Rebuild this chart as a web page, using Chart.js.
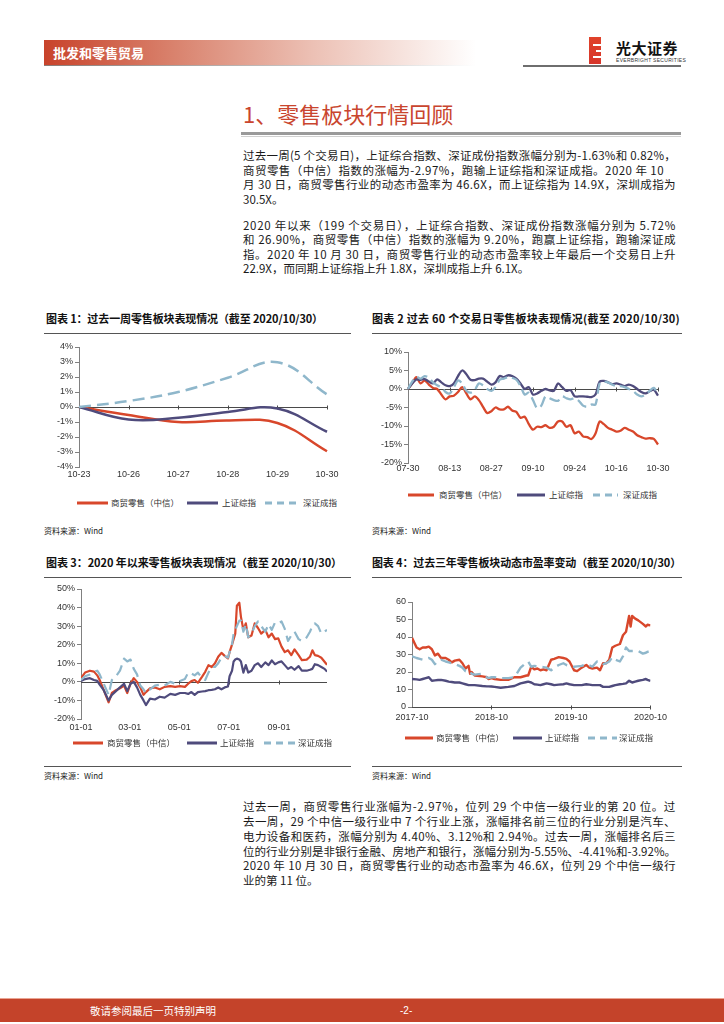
<!DOCTYPE html>
<html>
<head>
<meta charset="utf-8">
<script src="https://cdn.jsdelivr.net/npm/chart.js@4.4.1/dist/chart.umd.min.js"></script>
<style>
  body { margin: 0; background: #fff; }
  #page { position: relative; width: 724px; height: 1024px; overflow: hidden;
          font-family: "Noto Sans CJK SC", "Liberation Sans", sans-serif; color: #1a1a1a; }
  .abs { position: absolute; }
  .fit { position: absolute; white-space: nowrap; display: inline-block; }
  .ln { font-size: 11.5px; line-height: 15px; height: 15px; left: 243px; }
  .ttl { font-size: 11px; font-weight: bold; line-height: 14px; height: 14px; color: #111; }
  .src { font-size: 8px; line-height: 10px; color: #222; }
  .lg { font-size: 8.5px; line-height: 11px; color: #333; }
  canvas { position: absolute; }
</style>
</head>
<body>
<div id="page">
  <!-- header band -->
  <div class="abs" style="left:44px;top:40px;width:432px;height:25px;background:linear-gradient(to right,#c8432b 0%,#d9826d 30%,#ecc0b4 62%,#ffffff 100%);"></div>
  <div class="abs" style="left:44px;top:65px;width:432px;height:1px;background:linear-gradient(to right,#8a7c78,#ddd 80%,#fff);"></div>
  <div class="abs" style="left:53px;top:44px;font-size:13px;line-height:17px;font-weight:bold;color:#fff;">批发和零售贸易</div>

  <!-- logo -->
  <div class="abs" style="left:589px;top:37px;width:12px;height:27px;background:linear-gradient(to bottom,#e0422a,#d7352a);"></div>
  <div class="abs" style="left:593px;top:44px;width:8px;height:1.5px;background:#fff;"></div>
  <div class="abs" style="left:596px;top:50px;width:5px;height:1.5px;background:#fff;"></div>
  <div class="abs" style="left:593px;top:56px;width:8px;height:1.5px;background:#fff;"></div>
  <div class="abs" style="left:616px;top:38px;font-size:15px;line-height:19px;font-weight:bold;color:#111;letter-spacing:0.5px;">光大证券</div>
  <div class="abs" style="left:616px;top:57px;font-size:5px;line-height:6px;color:#333;font-family:'Liberation Sans';letter-spacing:0.3px;">EVERBRIGHT SECURITIES</div>
  <div class="abs" style="left:523px;top:65px;width:158px;height:2px;background:#6e6e6e;"></div>

  <!-- section title -->
  <div class="abs" style="left:243px;top:100px;font-size:22px;line-height:26px;color:#c9452e;">1、零售板块行情回顾</div>
  <div class="abs" style="left:241px;top:132px;width:440px;height:3px;background:#9a9a9a;"></div>
  <div class="abs" style="left:241px;top:136px;width:440px;height:1px;background:#d0d0d0;"></div>

  <!-- paragraphs -->
  <span class="fit ln" style="top:148px">过去一周(5 个交易日)，上证综合指数、深证成份指数涨幅分别为-1.63%和 0.82%，</span>
  <span class="fit ln" data-w="421" style="top:163px">商贸零售（中信）指数的涨幅为-2.97%，跑输上证综指和深证成指。2020 年 10</span>
  <span class="fit ln" style="top:177px">月 30 日，商贸零售行业的动态市盈率为 46.6X，而上证综指为 14.9X，深圳成指为</span>
  <span class="fit ln" data-w="0" style="top:192px">30.5X。</span>
  <span class="fit ln" style="top:218px">2020 年以来（199 个交易日），上证综合指数、深证成份指数涨幅分别为 5.72%</span>
  <span class="fit ln" style="top:232px">和 26.90%，商贸零售（中信）指数的涨幅为 9.20%，跑赢上证综指，跑输深证成</span>
  <span class="fit ln" style="top:247px">指。2020 年 10 月 30 日，商贸零售行业的动态市盈率较上年最后一个交易日上升</span>
  <span class="fit ln" data-w="0" style="top:261px">22.9X，而同期上证综指上升 1.8X，深圳成指上升 6.1X。</span>

  <!-- chart titles -->
  <span class="fit ttl" data-w="277" style="left:46px;top:311px">图表 1：过去一周零售板块表现情况（截至 2020/10/30）</span>
  <span class="fit ttl" data-w="308" style="left:372px;top:311px">图表 2 过去 60 个交易日零售板块表现情况(截至 2020/10/30)</span>
  <div class="abs" style="left:44px;top:333px;width:307px;height:1px;background:#555;"></div>
  <div class="abs" style="left:372px;top:333px;width:310px;height:1px;background:#555;"></div>

  <span class="fit ttl" data-w="296" style="left:46px;top:555px">图表 3：2020 年以来零售板块表现情况（截至 2020/10/30）</span>
  <span class="fit ttl" data-w="309" style="left:372px;top:555px">图表 4：过去三年零售板块动态市盈率变动（截至 2020/10/30）</span>
  <div class="abs" style="left:44px;top:577px;width:307px;height:1px;background:#555;"></div>
  <div class="abs" style="left:372px;top:577px;width:310px;height:1px;background:#555;"></div>

  <canvas id="c1"></canvas>
  <canvas id="c2"></canvas>
  <canvas id="c3"></canvas>
  <canvas id="c4"></canvas>
  <div id="legends"></div>

  <span class="fit src" style="left:44px;top:526px">资料来源：Wind</span>
  <span class="fit src" style="left:372px;top:526px">资料来源：Wind</span>
  <div class="abs" style="left:44px;top:766px;width:307px;height:1px;background:#555;"></div>
  <div class="abs" style="left:372px;top:766px;width:310px;height:1px;background:#555;"></div>
  <span class="fit src" style="left:44px;top:771px">资料来源：Wind</span>
  <span class="fit src" style="left:372px;top:771px">资料来源：Wind</span>

  <!-- closing paragraph -->
  <span class="fit ln" style="top:799px">过去一周，商贸零售行业涨幅为-2.97%，位列 29 个中信一级行业的第 20 位。过</span>
  <span class="fit ln" style="top:814px">去一周，29 个中信一级行业中 7 个行业上涨，涨幅排名前三位的行业分别是汽车、</span>
  <span class="fit ln" style="top:829px">电力设备和医药，涨幅分别为 4.40%、3.12%和 2.94%。过去一周，涨幅排名后三</span>
  <span class="fit ln" style="top:844px">位的行业分别是非银行金融、房地产和银行，涨幅分别为-5.55%、-4.41%和-3.92%。</span>
  <span class="fit ln" style="top:858px">2020 年 10 月 30 日，商贸零售行业的动态市盈率为 46.6X，位列 29 个中信一级行</span>
  <span class="fit ln" data-w="0" style="top:873px">业的第 11 位。</span>

  <!-- footer -->
  <div class="abs" style="left:0;top:998px;width:724px;height:1px;background:#e9a493;"></div>
  <div class="abs" style="left:0;top:999px;width:724px;height:23px;background:#c4432a;"></div>
  <div class="abs" style="left:90px;top:1004px;font-size:10.5px;line-height:14px;color:#fff;">敬请参阅最后一页特别声明</div>
  <div class="abs" style="left:400px;top:1004px;font-size:10px;line-height:14px;color:#fff;font-family:'Liberation Sans';">-2-</div>
</div>

<script>
// ---- chart 1: past week (trading days) ----
const wkLabels = ["10-23", "10-26", "10-27", "10-28", "10-29", "10-30"];
const wkRetail = [0, -0.53, -1.0, -0.9, -1.07, -2.95];
const wkSH     = [0, -0.83, -0.72, -0.33, -0.1, -1.65];
const wkSZ     = [0, 0.4, 1.0, 1.95, 2.98, 0.84];

// ---- chart 2: past 60 trading days ----
const d60Labels = ["07-30","07-31","08-03","08-04","08-05","08-06","08-07","08-10","08-11","08-12",
  "08-13","08-14","08-17","08-18","08-19","08-20","08-21","08-24","08-25","08-26",
  "08-27","08-28","08-31","09-01","09-02","09-03","09-04","09-07","09-08","09-09",
  "09-10","09-11","09-14","09-15","09-16","09-17","09-18","09-21","09-22","09-23",
  "09-24","09-25","09-28","09-29","09-30","10-09","10-12","10-13","10-14","10-15",
  "10-16","10-19","10-20","10-21","10-22","10-23","10-26","10-27","10-28","10-29","10-30"];
const d60Retail = [0,1.5,3.2,1.5,2.3,1.2,0.3,0,-1.5,-2.8,
  -2.0,-1.8,-0.8,0.5,-1.2,-2.8,-2.0,-3.0,-4.8,-6.5,
  -6.0,-5.0,-5.5,-5.5,-4.8,-5.8,-6.2,-7.8,-7.5,-9.5,
  -11.0,-10.2,-10.3,-9.8,-10.5,-10.2,-8.8,-8.8,-10.2,-9.8,
  -12.0,-11.5,-12.8,-13.0,-13.5,-12.0,-8.8,-9.5,-10.5,-11.0,
  -11.5,-11.3,-10.5,-11.0,-11.5,-12.5,-13.0,-13.4,-13.3,-13.5,-15.0];
const d60SH = [0,1.5,2.6,2.5,2.7,2.0,1.5,2.6,1.8,1.0,
  0.8,1.5,3.5,5.0,4.0,2.5,2.4,2.8,2.8,2.0,
  1.2,1.8,3.5,3.2,3.7,3.5,2.8,1.5,0,0.5,
  -1.5,-1.2,-0.5,0,-0.4,-0.5,1.5,0.5,-0.5,-0.3,
  -2.0,-2.0,-2.0,-2.1,-2.2,-1.5,2.0,2.2,1.8,1.3,
  1.5,1.2,0.8,1.2,0.8,0,-0.8,-1.2,-0.6,-0.2,-1.8];
const d60SZ = [0,2.0,3.3,2.8,3.5,3.0,1.8,1.0,0.5,-0.8,
  -1.2,0.5,2.3,1.5,-0.5,-1.0,-0.3,1.5,1.0,0,
  -0.5,0.5,2.5,2.8,3.2,3.0,2.5,0.8,-1.5,-1.0,
  -3.0,-5.2,-4.5,-2.0,-2.5,-3.0,-3.2,-2.0,-2.5,-2.8,
  -2.5,-3.2,-4.5,-4.8,-4.2,-4.2,1.5,2.0,1.8,1.2,
  0.8,0.8,0.5,0,-0.5,-1.5,-2.0,-1.5,-0.5,0.3,-1.5];

// ---- chart 3: 2020 YTD, x = calendar day since 01-01 ----
const ytdDays = [0,5,11,16,20,23,28,34,38,43, 48,53,57,61,65,69,73,77,80,85,
  91,97,103,110,116,122,128,132,136,140, 144,149,153,157,161,165,169,173,177,181,
  183,186,188,190,192,195,197,200,203,206, 210,214,218,222,227,231,235,239,243,247,
  251,255,259,263,268,272,278,282,285,288, 292,296,300,303];
const ytdRetail = [2,5,6,5.5,3.5,1,-4.5,-11,-6,-4.5, -3.5,-2,-6,-1,2,0,-3,-7,-5.5,-3.5,
  -3,-4,-2.7,-2.3,-2.7,-2.3,-2.7,-1,0.4,1, -0.5,2.7,5.4,9,8,10,13.5,15.6,14,12.6,
  16,20,23,26,41,42.6,35,28,31.5,24, 25,31.5,29,26,28,24,26,23,23.4,19,
  16,17,14.4,17.5,14.4,11.7,12,13.5,17,14.4, 14,13,10.8,9.2];
const ytdSH = [0.5,1.5,2,1,0.5,-1.5,-4.5,-10,-7,-5, -3,-1,-5,-1,0,-3,-7,-10,-12.5,-9,
  -9.5,-8,-8.5,-6.5,-7,-6,-6,-6.5,-5.5,-7, -5.5,-5.2,-5,-4.5,-4.3,-4,-3,-4,-3,-2.5,
  3,6,11,12,12.5,12,11,5,9,5, 6,9,10,8,10.5,9,11.5,9.5,10.5,11,
  9,7,8,6.5,8.5,6,6,6.5,7,9.5, 9,8,7,5.5];
const ytdSZ = [1,3,4,5.5,6,4,-1,-7,1,3, 6,12.5,11,12,7,4,-2,-4,-6,-4,
  -2,-1.5,-2,0,-1,0.5,1.5,5,4.5,3.5, 5,2,1,5,8,8,10,13,14,13,
  16,20,26,28,30,33,33,27,31,24, 26,30,32.5,30,27,31,28,32,31.5,32.5,
  28.5,22,25,27,23,22,24,27,30,31.5, 30,26,27,28];
const ytdTicks = [0, 60, 121, 182, 244];
const ytdTickLabels = ["01-01", "03-01", "05-01", "07-01", "09-01"];

// ---- chart 4: 3-year PE, x = week since 2017-10 ----
const peWeeks = [0,3,5,7,9,11,13,15,17,19, 22,24,26,28,31,33,35,37,38,39,
  41,46,49,50,52,54,58,63,67,71, 75,76,78,80,82,84,86,88,91,93,
  96,99,101,103,106,108,111,114,116,118, 121,123,125,127,129,131,133,136,138,140,
  142,143,144,146,148,151,153,154,156];
const peRetail = [39.5,34,33,34,34,34.5,33,29.5,30.5,28, 28,27,25.5,26.5,27,25,22,23.5,19,20,
  18,17.5,17,16,16.5,16,15.5,15.5,17,17, 18,18,23,21.5,22,21,21.5,21,27,27.5,
  28.5,28,27.5,26,21,20.5,22.5,24,22.5,22, 22.5,21,25,25,27,34,35,36,41,43,
  52,46,52,50.5,49.5,47.5,46,47,46.6];
const peSH = [16,15.8,15.5,16,16.5,17,15,15.2,15.4,15.5, 15,14.5,14.3,14,14,13.5,13,12.5,12.5,12.5,
  12.5,12,11.8,11.8,11.7,11.5,11,11.5,12,13.5, 14.3,14.5,14,13,12.8,12.5,13,13.5,13,12.5,
  12.8,13,13.5,13,12.5,12.5,12.5,13,12.8,12.5, 12.5,12.5,11.5,11.5,11.5,12,12.5,13,13.2,13.5,
  15,14.5,14,14.5,15,15.5,16,15.5,14.9];
const peSZ = [29,28,27.5,27,27.5,28,27,24.5,26.5,27, 26,25.5,25,24.5,23.5,22.5,20.5,21,20,19,
  18.5,19,17,16.5,17,17,16.5,16.5,17,22.5, 25.5,26,23,23.5,23.2,23,22.8,22.5,21,22.5,
  24,25,24,23.5,23,23.2,23.5,24.5,23.8,23, 26,26,24.5,25,26,28.5,27,26,29,34,
  32,32,32,32,32,30.5,31,31.5,32];
const peTicks = [0, 52, 104, 156];
const peTickLabels = ["2017-10", "2018-10", "2019-10", "2020-10"];

const seriesNames = ["商贸零售（中信）", "上证综指", "深证成指"];
const RED = "#d8472b", NAVY = "#4f4b7c", BLUE = "#8fb7cb";
const tickFont = { family: "Liberation Sans", size: 9 };

// zero line with small tick marks, drawn under the series like the source charts
const zeroAxis = {
  id: "zeroAxis",
  beforeDatasetsDraw(chart) {
    const { ctx, chartArea: a, scales: { x, y } } = chart;
    const py = Math.round(y.getPixelForValue(0)) + 0.5;
    ctx.save();
    ctx.strokeStyle = "#4a4a4a";
    ctx.lineWidth = 1;
    ctx.beginPath();
    ctx.moveTo(a.left, py);
    ctx.lineTo(a.right, py);
    x.ticks.forEach((t, i) => {
      if (i === 0) return;
      const px = Math.round(x.getPixelForTick(i)) + 0.5;
      ctx.moveTo(px, py - 2);
      ctx.lineTo(px, py + 2);
    });
    ctx.stroke();
    ctx.restore();
  },
};

function place(id, left, top, w, h) {
  const c = document.getElementById(id);
  c.width = w; c.height = h;
  c.style.left = left + "px"; c.style.top = top + "px";
  c.style.width = w + "px"; c.style.height = h + "px";
  return c;
}

function lineSet(data, color, width, dash, order) {
  return {
    data, borderColor: color, borderWidth: width, borderDash: dash || [],
    pointRadius: 0, fill: false, order, borderCapStyle: "butt", borderJoinStyle: "round",
  };
}

function makeChart(id, box, cfg) {
  const canvas = place(id, box.left, box.top, box.w, box.h);
  return new Chart(canvas, {
    type: "line",
    data: { labels: cfg.labels, datasets: cfg.datasets },
    options: {
      responsive: false, animation: false, devicePixelRatio: 1,
      layout: { padding: { top: box.padTop, right: box.padRight, left: 0, bottom: 0 } },
      plugins: { legend: { display: false }, tooltip: { enabled: false } },
      scales: {
        x: Object.assign({
          grid: { display: false, drawTicks: false },
          border: { display: false },
          afterFit: (s) => { s.height = box.xH; },
        }, cfg.x),
        y: {
          min: cfg.yMin, max: cfg.yMax,
          ticks: { stepSize: cfg.yStep, color: "#333", font: tickFont, padding: 2,
                   callback: cfg.yFmt },
          grid: { drawOnChartArea: false, drawTicks: true, tickLength: 4, color: "#808080" },
          border: { color: "#808080" },
          afterFit: (s) => { s.width = box.yW; },
        },
      },
    },
    plugins: [zeroAxis],
  });
}

const pct = (v) => v + "%";

makeChart("c1", { left: 30, top: 337, w: 312, h: 150, padTop: 10, padRight: 15, yW: 49, xH: 20 }, {
  labels: wkLabels,
  datasets: [
    lineSet(wkRetail, RED, 2.5, null, 3),
    lineSet(wkSH, NAVY, 2.5, null, 2),
    lineSet(wkSZ, BLUE, 2.5, [12, 6], 1),
  ].map((d) => Object.assign(d, { tension: 0.4 })),
  x: { offset: false, ticks: { color: "#333", font: tickFont, padding: 2, maxRotation: 0, autoSkip: false } },
  yMin: -4, yMax: 4, yStep: 1, yFmt: pct,
});

makeChart("c2", { left: 365, top: 342, w: 307, h: 141, padTop: 10, padRight: 14, yW: 43, xH: 20 }, {
  labels: d60Labels,
  datasets: [
    lineSet(d60Retail, RED, 2.3, null, 3),
    lineSet(d60SH, NAVY, 2.3, null, 2),
    lineSet(d60SZ, BLUE, 2.3, [11, 5], 1),
  ].map((d) => Object.assign(d, { tension: 0.3 })),
  x: {
    offset: false,
    afterBuildTicks: (s) => { s.ticks = s.ticks.filter((t) => t.value % 10 === 0); },
    ticks: { color: "#333", font: tickFont, padding: 0, maxRotation: 0, autoSkip: false,
             callback: (v) => d60Labels[v] },
  },
  yMin: -20, yMax: 10, yStep: 5, yFmt: pct,
});

const xy = (xs, ys) => xs.map((x, i) => ({ x, y: ys[i] }));

makeChart("c3", { left: 30, top: 579, w: 312, h: 160, padTop: 10, padRight: 15, yW: 51, xH: 20 }, {
  datasets: [
    lineSet(xy(ytdDays, ytdRetail), RED, 2.2, null, 3),
    lineSet(xy(ytdDays, ytdSH), NAVY, 2.2, null, 2),
    lineSet(xy(ytdDays, ytdSZ), BLUE, 2.2, [11, 6], 1),
  ],
  x: {
    type: "linear", min: 0, max: 303,
    afterBuildTicks: (s) => { s.ticks = ytdTicks.map((v) => ({ value: v })); },
    ticks: { color: "#333", font: tickFont, padding: 3, maxRotation: 0, autoSkip: false,
             callback: (v) => ytdTickLabels[ytdTicks.indexOf(v)] },
  },
  yMin: -20, yMax: 50, yStep: 10, yFmt: pct,
});

makeChart("c4", { left: 365, top: 592, w: 307, h: 135, padTop: 10, padRight: 17, yW: 47, xH: 20 }, {
  datasets: [
    lineSet(xy(peWeeks, peRetail), RED, 2.4, null, 3),
    lineSet(xy(peWeeks, peSH), NAVY, 2.4, null, 2),
    lineSet(xy(peWeeks, peSZ), BLUE, 2.4, [11, 6], 1),
  ],
  x: {
    type: "linear", min: 0, max: 156,
    afterBuildTicks: (s) => { s.ticks = peTicks.map((v) => ({ value: v })); },
    ticks: { color: "#333", font: tickFont, padding: 5, maxRotation: 0, autoSkip: false,
             callback: (v) => peTickLabels[peTicks.indexOf(v)] },
  },
  yMin: 0, yMax: 60, yStep: 10, yFmt: (v) => v,
});

// HTML legends under each chart: [y, red x1,x2,text x, navy x1,x2,text x, blue x1,x2,text x]
const legendRows = [
  [503, 77, 108, 111, 187, 218, 222, 265, 298, 303],
  [495, 408, 434, 439, 517, 545, 549, 593, 618, 623],
  [743, 73, 103, 107, 187, 217, 220, 264, 295, 298],
  [738, 405, 433, 436, 513, 542, 545, 588, 617, 619],
];
const legendHost = document.getElementById("legends");
legendRows.forEach((r) => {
  const y = r[0];
  [[RED, null], [NAVY, null], [BLUE, "7 5"]].forEach(([col, dash], i) => {
    const x1 = r[1 + i * 3], x2 = r[2 + i * 3], tx = r[3 + i * 3];
    legendHost.insertAdjacentHTML("beforeend",
      `<svg class="abs" style="left:${x1}px;top:${y - 2}px" width="${x2 - x1}" height="4">
         <line x1="0" y1="2" x2="${x2 - x1}" y2="2" stroke="${col}" stroke-width="3"
           ${dash ? `stroke-dasharray="${dash}"` : ""}/></svg>
       <span class="fit lg" style="left:${tx}px;top:${y - 6}px">${seriesNames[i]}</span>`);
  });
});

// stretch / squeeze text lines to the widths measured on the page
document.fonts.ready.then(() => {
  document.querySelectorAll(".fit").forEach((el) => {
    let w = el.dataset.w != null ? +el.dataset.w : (el.classList.contains("ln") ? 433 : 0);
    if (!w) return;
    el.style.letterSpacing = "0px";
    const nat = el.getBoundingClientRect().width;
    el.style.letterSpacing = ((w - nat) / el.textContent.length) + "px";
  });
});
</script>
</body>
</html>
